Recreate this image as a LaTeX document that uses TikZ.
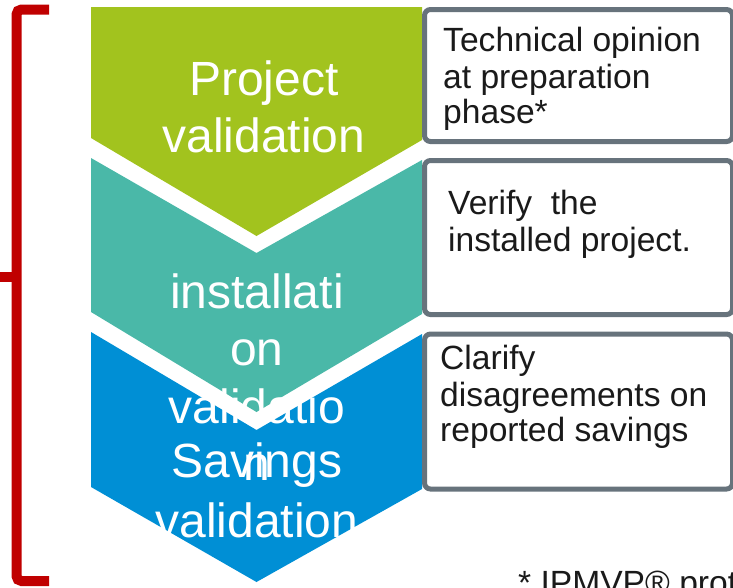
\documentclass[tikz,border=0pt]{standalone}
\usepackage{fontspec}
\setmainfont{Liberation Sans}
\definecolor{cgreen}{HTML}{A2C31E}
\definecolor{cteal}{HTML}{4AB8A8}
\definecolor{cblue}{HTML}{008FD5}
\definecolor{cred}{HTML}{C00000}
\definecolor{cgray}{HTML}{67737C}
\definecolor{ctext}{HTML}{1A1A1A}
\tikzset{
  bigtext/.style={font=\fontsize{48}{57}\selectfont, text=white, inner sep=0pt, anchor=base},
  smalltext/.style={font=\fontsize{33.6}{36}\selectfont, text=ctext, inner sep=0pt, anchor=base west},
  descbox/.style={draw=cgray, line width=5pt, rounded corners=6pt, fill=white, inner sep=0pt, anchor=north west, minimum width=308pt},
  bracket/.style={draw=cred, line width=10pt}
}
\begin{document}
\begin{tikzpicture}[x=1pt,y=-1pt]
\useasboundingbox (0,0) rectangle (733,587);
\clip (0,0) rectangle (733,587);
% chevrons
\fill[cblue] (91,332) -- (256.5,430) -- (422,334) -- (422,489) -- (256.5,582) -- (91,487) -- cycle;
\fill[cteal] (91,158) -- (256.5,253) -- (422,160) -- (422,314) -- (256.5,412) -- (91,312) -- cycle;
\fill[cgreen] (91,7) -- (422,7) -- (422,140) -- (256.5,236) -- (91,138) -- cycle;
% description boxes
\node[descbox, minimum height=132pt] (d1) at (422,7) {};
\node[descbox, minimum height=154pt] (d2) at (422,158) {};
\node[descbox, minimum height=155pt] (d3) at (422,331.5) {};
% bracket
\draw[bracket, rounded corners=5pt] (49,9.5) -- (16.5,9.5) -- (16.5,581) -- (49,581);
\draw[bracket] (0,277) -- (16.5,277);
% chevron texts
\node[bigtext] (g1) at (264,95) {Project};
\node[bigtext] (g2) at (264,152) {validation};
\node[bigtext] (t1) at (257,308) {installati};
\node[bigtext] (t2) at (257,365) {on};
\node[bigtext] (t3) at (257,423) {validatio};
\node[bigtext] (t4) at (257,480) {n};
\node[bigtext] (b1) at (257,477) {Savings};
\node[bigtext] (b2) at (257,537) {validation};
% box texts
\node[smalltext] (a1) at (443,51) {Technical opinion};
\node[smalltext] (a2) at (443,88) {at preparation};
\node[smalltext] (a3) at (443,123) {phase*};
\node[smalltext] (v1) at (448,214) {Verify\ \ the};
\node[smalltext] (v2) at (448,251) {installed project.};
\node[smalltext] (c1) at (440,369) {Clarify};
\node[smalltext] (c2) at (440,406) {disagreements on};
\node[smalltext] (c3) at (440,441) {reported savings};
% footnote
\node[smalltext] (fn) at (518,594) {* IPMVP® prot};
\end{tikzpicture}
\end{document}
